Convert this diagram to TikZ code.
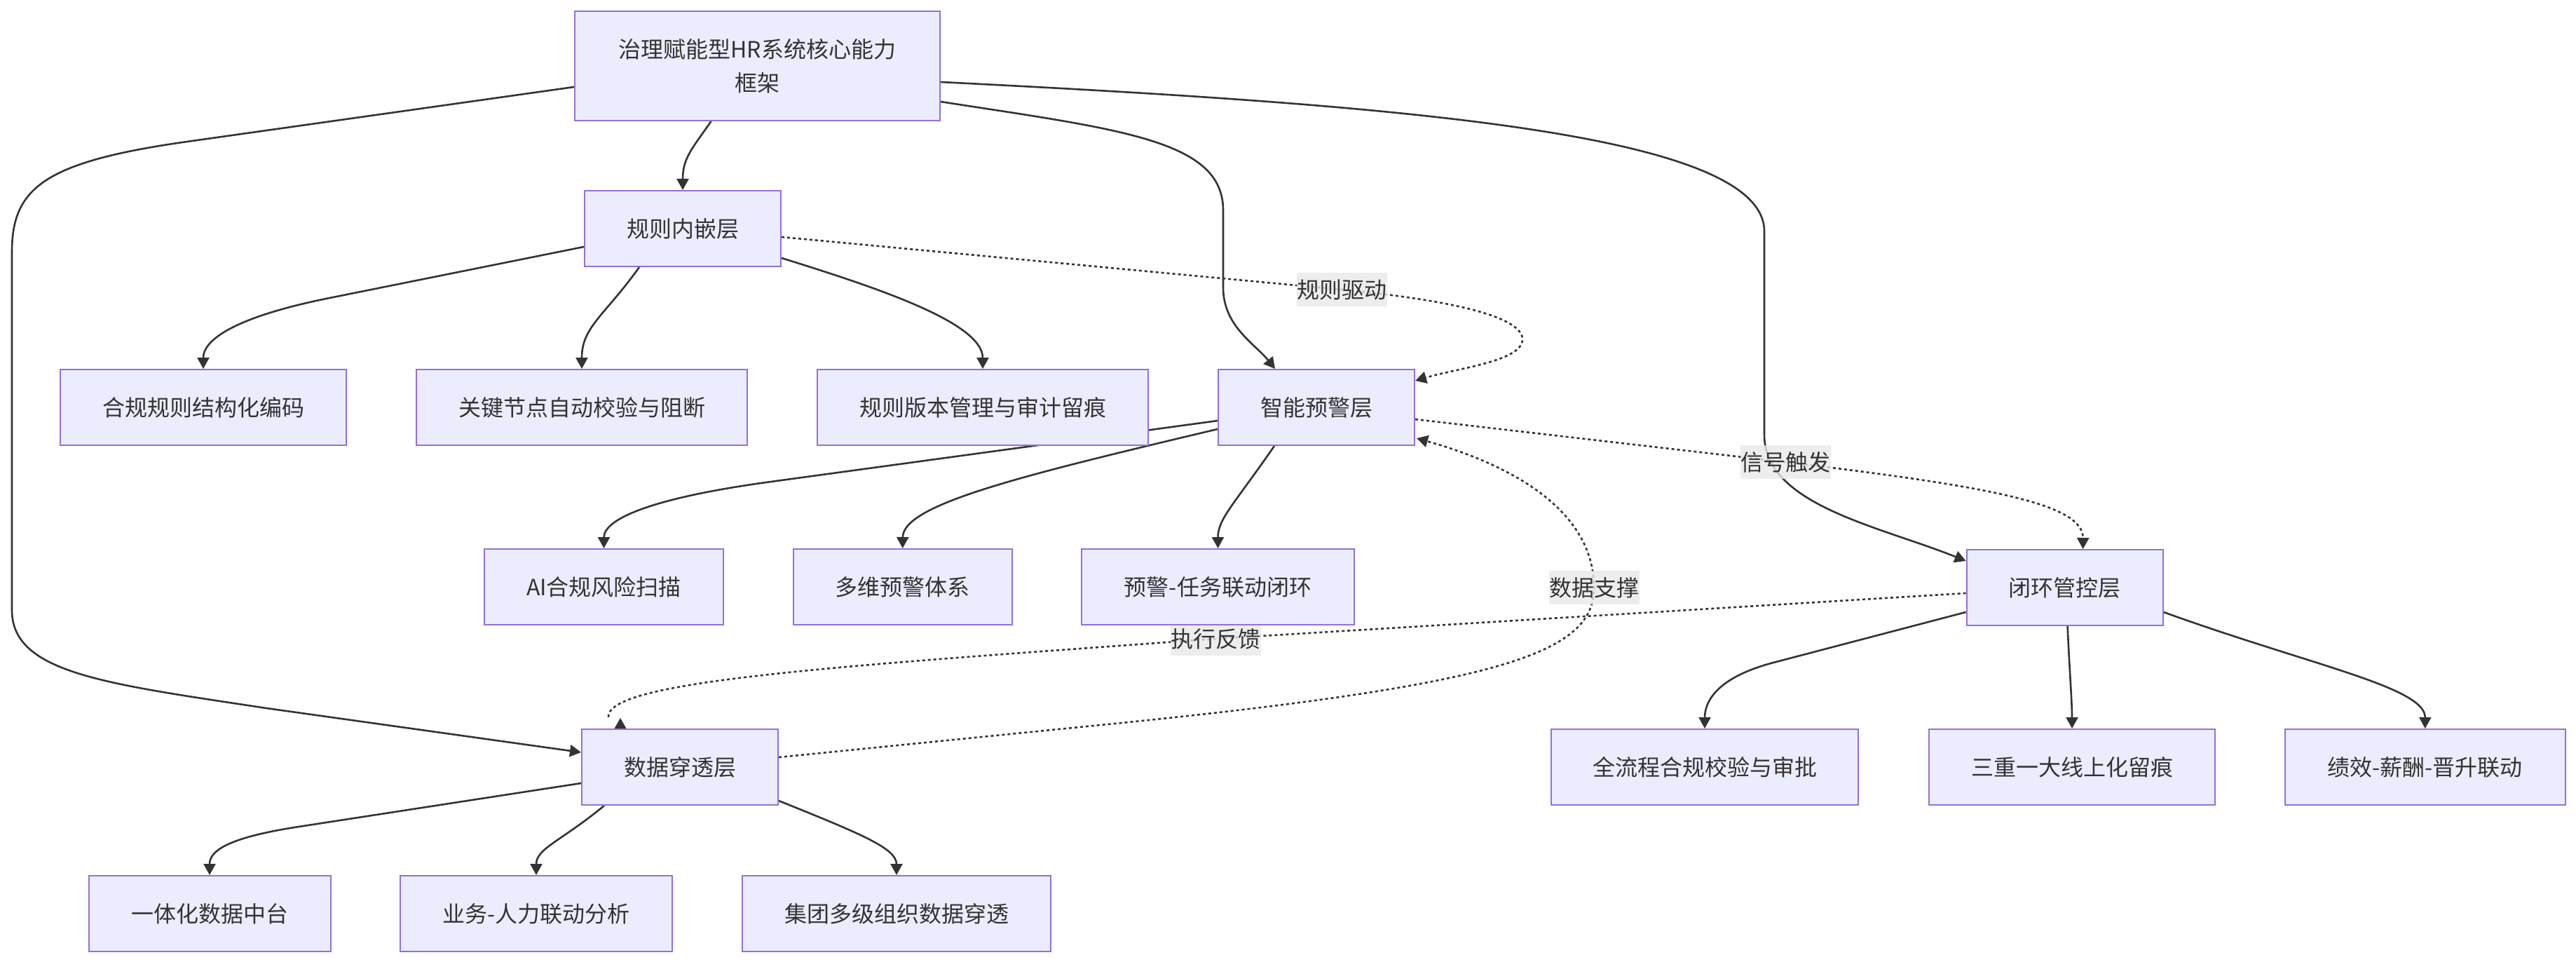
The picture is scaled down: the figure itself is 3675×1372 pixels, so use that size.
\documentclass[tikz,border=0pt]{standalone}
\usepackage{fontspec}
\newfontfamily\cjk{Noto Sans CJK SC}
\usetikzlibrary{arrows.meta,calc}
\definecolor{nfill}{HTML}{ECECFF}
\definecolor{nline}{HTML}{9370DB}
\definecolor{ec}{HTML}{333333}
\definecolor{lblbg}{HTML}{E8E8E8}
\pgfdeclarelayer{bg}
\pgfsetlayers{bg,main}
\begin{document}
\begin{tikzpicture}[x=1pt,y=-1pt,
  box/.style={draw=nline, line width=2pt, fill=nfill, text=ec, font=\cjk\fontsize{32}{48}\selectfont, inner sep=0pt, minimum height=108pt, align=center},
  conn/.style={draw=ec, line width=2.6pt, -{Triangle[length=16pt,width=17pt]}},
  dconn/.style={conn, dash pattern=on 4pt off 4pt},
  lbl/.style={fill=lblbg, fill opacity=0.8, text opacity=1, text=ec, font=\cjk\fontsize{32}{48}\selectfont, inner sep=0.5pt, minimum height=48pt}]
\useasboundingbox (0,0) rectangle (3675,1372);

% nodes
\node[box, minimum width=521pt, minimum height=156pt] (root) at (1080.5,94) {治理赋能型HR系统核心能力\\框架};
\node[box, minimum width=280pt] (rule) at (974,326) {规则内嵌层};
\node[box, minimum width=408pt] (A1) at (290,581) {合规规则结构化编码};
\node[box, minimum width=472pt] (A2) at (830,581) {关键节点自动校验与阻断};
\node[box, minimum width=472pt] (A3) at (1402,581) {规则版本管理与审计留痕};
\node[box, minimum width=280pt] (warn) at (1878,581) {智能预警层};
\node[box, minimum width=341pt] (B1) at (861.5,837) {AI合规风险扫描};
\node[box, minimum width=312pt] (B2) at (1287.7,837) {多维预警体系};
\node[box, minimum width=389pt] (B3) at (1737.5,837) {预警-任务联动闭环};
\node[box, minimum width=280pt] (loop) at (2945.6,838) {闭环管控层};
\node[box, minimum width=438pt] (C1) at (2432,1094) {全流程合规校验与审批};
\node[box, minimum width=408pt] (C2) at (2956,1094) {三重一大线上化留痕};
\node[box, minimum width=400pt] (C3) at (3459.7,1094) {绩效-薪酬-晋升联动};
\node[box, minimum width=280pt] (data) at (970,1094) {数据穿透层};
\node[box, minimum width=345pt] (D1) at (299,1303) {一体化数据中台};
\node[box, minimum width=388pt] (D2) at (765,1303) {业务-人力联动分析};
\node[box, minimum width=440pt] (D3) at (1279,1303) {集团多级组织数据穿透};

\begin{pgfonlayer}{bg}
% root edges
\draw[conn] ($(root.south)+(-66,0)$) .. controls +(-28,40) and +(0,-45) .. (rule.north);
\draw[conn] ($(root.east)+(0,51)$) .. controls (1600,185) and (1745,200) .. (1745,300) -- (1745,410) .. controls (1745,465) and (1790,490) .. ($(warn.north)+(-59,0)$);
\draw[conn] ($(root.east)+(0,23)$) .. controls (2000,150) and (2517,190) .. (2517,330) -- (2517,620) .. controls (2517,720) and (2680,750) .. ($(loop.west)+(0,-38)$);
\draw[conn] ($(root.west)+(0,30)$) -- (260,203) .. controls (60,232) and (17,270) .. (17,360) -- (17,870) .. controls (17,960) and (150,975) .. (380,1010) -- ($(data.west)+(0,-21)$);
% rule layer
\draw[conn] ($(rule.west)+(0,26)$) -- (470,425) .. controls (350,449) and (290,480) .. (A1.north);
\draw[conn] ($(rule.south)+(-62,0)$) .. controls +(-50,70) and +(0,-60) .. (A2.north);
\draw[conn] ($(rule.east)+(0,42)$) .. controls (1250,410) and (1402,460) .. (A3.north);
\draw[dconn] ($(rule.east)+(0,12)$) -- (1914,413) node[lbl] (l1) {规则驱动} .. controls (2090,430) and (2172,455) .. (2172,484) .. controls (2172,515) and (2080,525) .. ($(warn.east)+(0,-38)$);
% warn layer
\draw[conn] ($(warn.west)+(0,19)$) -- (1100,687) .. controls (930,710) and (861.5,740) .. (B1.north);
\draw[conn] ($(warn.west)+(0,31)$) .. controls (1450,680) and (1288,720) .. (B2.north);
\draw[conn] ($(warn.south)+(-60,0)$) .. controls (1760,720) and (1737.5,740) .. (B3.north);
\draw[dconn] ($(warn.east)+(0,17)$) -- (2547,659) node[lbl] (l2) {信号触发} .. controls (2850,695) and (2972,720) .. ($(loop.north)+(26,0)$);
% loop layer
\draw[conn] ($(loop.west)+(0,35)$) -- (2530,945) .. controls (2450,966) and (2432,1000) .. (C1.north);
\draw[conn] ($(loop.south)+(4,0)$) .. controls (2952,950) and (2956,1000) .. (C2.north);
\draw[conn] ($(loop.east)+(0,35)$) .. controls (3300,950) and (3460,980) .. (C3.north);
\draw[dconn,-] ($(loop.west)+(0,8)$) -- (1734,911) node[lbl] (l3) {执行反馈} .. controls (1200,950) and (860,970) .. ($(data.north)+(-102,-15)$);
\fill[ec] ($(data.north)+(-85,0)$) -- ++(-8.5,0) -- ++(8.5,-15) -- ++(8.5,15) -- cycle;
% data layer
\draw[dconn] ($(data.east)+(0,-14)$) -- (1600,1031) .. controls (2150,975) and (2274,930) .. (2274,838) node[lbl] (l4) {数据支撑} .. controls (2274,740) and (2180,670) .. ($(warn.east)+(2,44)$);
\draw[conn] ($(data.west)+(0,23)$) -- (420,1180) .. controls (320,1196) and (299,1215) .. (D1.north);
\draw[conn] ($(data.south)+(-108,0)$) .. controls (800,1200) and (765,1210) .. (D2.north);
\draw[conn] ($(data.east)+(0,48)$) .. controls (1230,1190) and (1279,1210) .. (D3.north);
\end{pgfonlayer}
\end{tikzpicture}
\end{document}
